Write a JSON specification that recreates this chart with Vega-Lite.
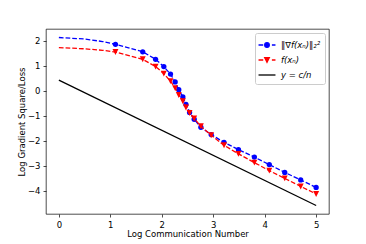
{
  "$schema": "https://vega.github.io/schema/vega-lite/v6.json",
  "width": 283,
  "height": 185,
  "autosize": {"type": "none"},
  "padding": {"left": 46, "top": 29, "right": 37, "bottom": 30},
  "background": "white",
  "config": {
    "font": "DejaVu Sans",
    "view": {"stroke": "black", "strokeWidth": 0.7},
    "axis": {
      "domain": false,
      "grid": false,
      "tickColor": "black",
      "tickWidth": 0.7,
      "tickSize": 3,
      "labelPadding": 3,
      "labelFont": "DejaVu Sans",
      "labelFontSize": 8.5,
      "labelColor": "black",
      "labelFlush": false,
      "labelOverlap": false,
      "titleFont": "DejaVu Sans",
      "titleFontSize": 8.5,
      "titleFontWeight": "normal",
      "titleColor": "black"
    },
    "legend": {
      "padding": 4,
      "rowPadding": 2,
      "fillColor": "rgba(255,255,255,0.8)",
      "strokeColor": "#cccccc",
      "cornerRadius": 2,
      "symbolSize": 196,
      "symbolStrokeWidth": 1.3,
      "symbolOpacity": 1,
      "labelFont": "DejaVu Sans",
      "labelFontSize": 8.5,
      "labelFontStyle": "italic",
      "labelColor": "black",
      "labelOffset": 6
    }
  },
  "data": {
    "values": [
      {"s": "a", "x": 0, "y": 2.12, "m": false},
      {"s": "a", "x": 0.5, "y": 2.06, "m": false},
      {"s": "a", "x": 0.85, "y": 1.96, "m": false},
      {"s": "a", "x": 1.1, "y": 1.85, "m": true},
      {"s": "a", "x": 1.63, "y": 1.55, "m": true},
      {"s": "a", "x": 1.88, "y": 1.25, "m": true},
      {"s": "a", "x": 2.04, "y": 0.96, "m": true},
      {"s": "a", "x": 2.17, "y": 0.66, "m": true},
      {"s": "a", "x": 2.26, "y": 0.35, "m": true},
      {"s": "a", "x": 2.33, "y": 0.04, "m": true},
      {"s": "a", "x": 2.41, "y": -0.25, "m": true},
      {"s": "a", "x": 2.47, "y": -0.55, "m": true},
      {"s": "a", "x": 2.54, "y": -0.87, "m": true},
      {"s": "a", "x": 2.63, "y": -1.14, "m": true},
      {"s": "a", "x": 2.76, "y": -1.46, "m": true},
      {"s": "a", "x": 2.96, "y": -1.75, "m": true},
      {"s": "a", "x": 3.21, "y": -2.06, "m": true},
      {"s": "a", "x": 3.49, "y": -2.35, "m": true},
      {"s": "a", "x": 3.8, "y": -2.65, "m": true},
      {"s": "a", "x": 4.09, "y": -2.95, "m": true},
      {"s": "a", "x": 4.39, "y": -3.26, "m": true},
      {"s": "a", "x": 4.7, "y": -3.56, "m": true},
      {"s": "a", "x": 5.0, "y": -3.86, "m": true},
      {"s": "b", "x": 0, "y": 1.72, "m": false},
      {"s": "b", "x": 0.5, "y": 1.67, "m": false},
      {"s": "b", "x": 0.85, "y": 1.61, "m": false},
      {"s": "b", "x": 1.1, "y": 1.54, "m": true},
      {"s": "b", "x": 1.63, "y": 1.25, "m": true},
      {"s": "b", "x": 1.88, "y": 0.96, "m": true},
      {"s": "b", "x": 2.04, "y": 0.68, "m": true},
      {"s": "b", "x": 2.17, "y": 0.38, "m": true},
      {"s": "b", "x": 2.26, "y": 0.1, "m": true},
      {"s": "b", "x": 2.33, "y": -0.17, "m": true},
      {"s": "b", "x": 2.41, "y": -0.42, "m": true},
      {"s": "b", "x": 2.47, "y": -0.67, "m": true},
      {"s": "b", "x": 2.54, "y": -0.89, "m": true},
      {"s": "b", "x": 2.63, "y": -1.11, "m": true},
      {"s": "b", "x": 2.76, "y": -1.42, "m": true},
      {"s": "b", "x": 2.96, "y": -1.78, "m": true},
      {"s": "b", "x": 3.21, "y": -2.18, "m": true},
      {"s": "b", "x": 3.49, "y": -2.52, "m": true},
      {"s": "b", "x": 3.8, "y": -2.87, "m": true},
      {"s": "b", "x": 4.09, "y": -3.19, "m": true},
      {"s": "b", "x": 4.39, "y": -3.5, "m": true},
      {"s": "b", "x": 4.7, "y": -3.82, "m": true},
      {"s": "b", "x": 5.0, "y": -4.12, "m": true},
      {"s": "c", "x": 0, "y": 0.42, "m": false},
      {"s": "c", "x": 5.0, "y": -4.58, "m": false}
    ]
  },
  "encoding": {
    "x": {
      "field": "x",
      "type": "quantitative",
      "scale": {"domain": [-0.25, 5.25], "nice": false, "zero": false},
      "axis": {"values": [0, 1, 2, 3, 4, 5], "format": "d", "title": "Log Communication Number", "titlePadding": 1}
    },
    "y": {
      "field": "y",
      "type": "quantitative",
      "scale": {"domain": [-4.92, 2.46], "nice": false, "zero": false},
      "axis": {"values": [-4, -3, -2, -1, 0, 1, 2], "format": "d", "title": "Log Gradient Square/Loss", "titlePadding": 1}
    }
  },
  "layer": [
    {
      "transform": [{"filter": "datum.s === 'a'"}],
      "mark": {"type": "line", "strokeWidth": 1.3, "color": "#0000ff", "strokeDash": [4.7, 2]},
      "encoding": {}
    },
    {
      "transform": [{"filter": "datum.m && datum.s === 'a'"}],
      "mark": {"type": "point", "shape": "circle", "filled": true, "opacity": 1, "size": 28, "color": "#0000ff"}
    },
    {
      "transform": [{"filter": "datum.s === 'b'"}],
      "mark": {"type": "line", "strokeWidth": 1.3, "color": "#ff0000", "strokeDash": [4.7, 2]},
      "encoding": {}
    },
    {
      "transform": [{"filter": "datum.m && datum.s === 'b'"}],
      "mark": {"type": "point", "shape": "M-1,-1L1,-1L0,1Z", "filled": true, "opacity": 1, "size": 35, "color": "#ff0000"}
    },
    {
      "transform": [{"filter": "datum.s === 'c'"}],
      "mark": {"type": "line", "strokeWidth": 1.3, "color": "#000000"},
      "encoding": {}
    },
    {
      "transform": [{"filter": "datum.y > 100"}],
      "mark": {"type": "point", "opacity": 1},
      "encoding": {
        "fill": {
          "field": "s",
          "type": "nominal",
          "scale": {"domain": ["a", "b", "c"], "range": ["#0000ff", "#ff0000", "transparent"]},
          "legend": {"title": null, "orient": "top-right", "offset": 4, "labelExpr": "datum.value === 'a' ? '‖∇f(xₙ)‖₂²' : datum.value === 'b' ? 'f(xₙ)' : 'y = c/n'"}
        },
        "stroke": {
          "field": "s",
          "type": "nominal",
          "scale": {"domain": ["a", "b", "c"], "range": ["#0000ff", "#ff0000", "#000000"]},
          "legend": {"title": null, "orient": "top-right", "offset": 4, "labelExpr": "datum.value === 'a' ? '‖∇f(xₙ)‖₂²' : datum.value === 'b' ? 'f(xₙ)' : 'y = c/n'"}
        },
        "shape": {
          "field": "s",
          "type": "nominal",
          "scale": {
            "domain": ["a", "b", "c"],
            "range": [
              "M-1.21,0H-0.54M0.7,0H1.21M-0.33,0A0.33,0.33,0,1,1,0.33,0A0.33,0.33,0,1,1,-0.33,0Z",
              "M-1.21,0H-0.54M0.7,0H1.21M-0.33,-0.33L0.33,-0.33L0,0.33Z",
              "M-1.21,0H1.21"
            ]
          },
          "legend": {"title": null, "orient": "top-right", "offset": 4, "labelExpr": "datum.value === 'a' ? '‖∇f(xₙ)‖₂²' : datum.value === 'b' ? 'f(xₙ)' : 'y = c/n'"}
        }
      }
    }
  ]
}
